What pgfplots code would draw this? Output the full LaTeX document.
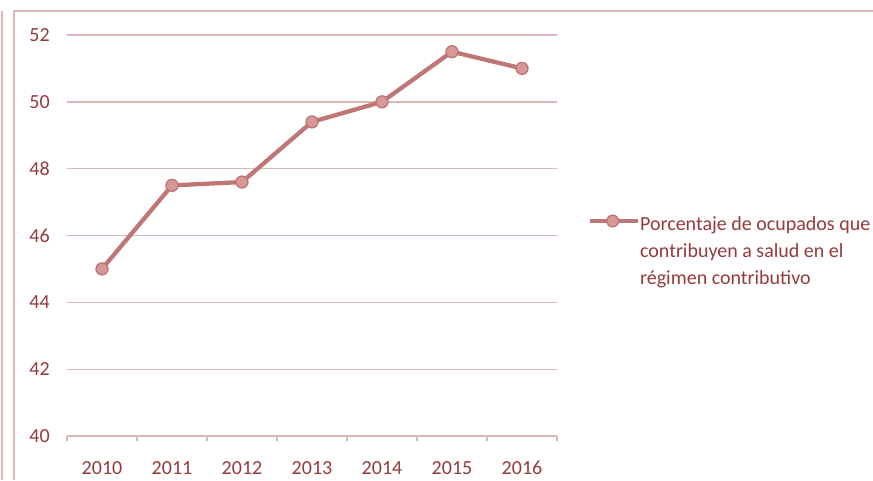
\documentclass[border=0pt]{standalone}
\usepackage{pgfplots}
\pgfplotsset{compat=1.18}
\usepackage{fontspec}
\setmainfont{Carlito}
\definecolor{txt}{RGB}{150,58,60}
\definecolor{lc}{RGB}{192,118,118}
\definecolor{mf}{RGB}{214,152,152}
\definecolor{gridc}{RGB}{222,184,184}
\definecolor{framec}{RGB}{220,185,185}
\begin{document}
\begin{tikzpicture}
\useasboundingbox (0,0) rectangle (654.75pt,360pt);
\fill[white] (0,0) rectangle (654.75pt,360pt);
\draw[framec, line width=1.2pt] (10.5pt,0) -- (10.5pt,351.75pt) -- (660pt,351.75pt);
\draw[framec, line width=1.5pt] (1.5pt,0) -- (1.5pt,352pt);
\begin{axis}[
  at={(50.25pt,33pt)}, anchor=south west,
  scale only axis, width=367.5pt, height=300.75pt,
  xmin=-0.5, xmax=6.5, ymin=40, ymax=52,
  xtick={0,...,6},
  xticklabels={2010,2011,2012,2013,2014,2015,2016},
  minor xtick={-0.5,0.5,...,6.5},
  ytick={40,42,...,52},
  axis x line*=bottom, axis y line*=left,
  x axis line style={draw=gridc, line width=1pt, -},
  y axis line style={draw=none},
  xtick align=outside,
  major x tick style={draw=none},
  minor x tick style={draw=gridc, line width=1pt},
  minor tick length=4pt,
  ytick style={draw=none},
  ymajorgrids, grid style={draw=gridc, line width=1pt},
  /pgf/number format/assume math mode=true,
  tick label style={font=\fontsize{15}{18}\selectfont, text=txt, inner sep=0pt},
  yticklabel style={anchor=east, xshift=-12.75pt},
  xticklabel style={anchor=north, yshift=-14.5pt},
  legend style={draw=none, fill=none, inner sep=0pt, outer sep=0pt,
    at={(1.063,0.5525)}, anchor=north west,
    nodes={inner sep=0pt},
    /tikz/every even column/.append style={column sep=0pt},
    font=\fontsize{15}{20.25}\selectfont, text=txt},
  legend cell align=left,
  legend image code/.code={
    \draw[lc, line width=3.2pt] (0pt,3pt) -- (36pt,3pt);
    \draw[lc, line width=1pt, fill=mf] (17pt,3pt) circle (4.4pt);
  },
]
\addplot[lc, line width=3.2pt, mark=*, mark size=4.5pt,
  mark options={fill=mf, draw=lc, line width=1pt}]
  coordinates {(0,45.0) (1,47.5) (2,47.6) (3,49.4) (4,50.0) (5,51.5) (6,51.0)};
\addlegendentry{\parbox[t]{180pt}{Porcentaje de ocupados que\\contribuyen a salud en el\\régimen contributivo}}
\end{axis}
\end{tikzpicture}
\end{document}
